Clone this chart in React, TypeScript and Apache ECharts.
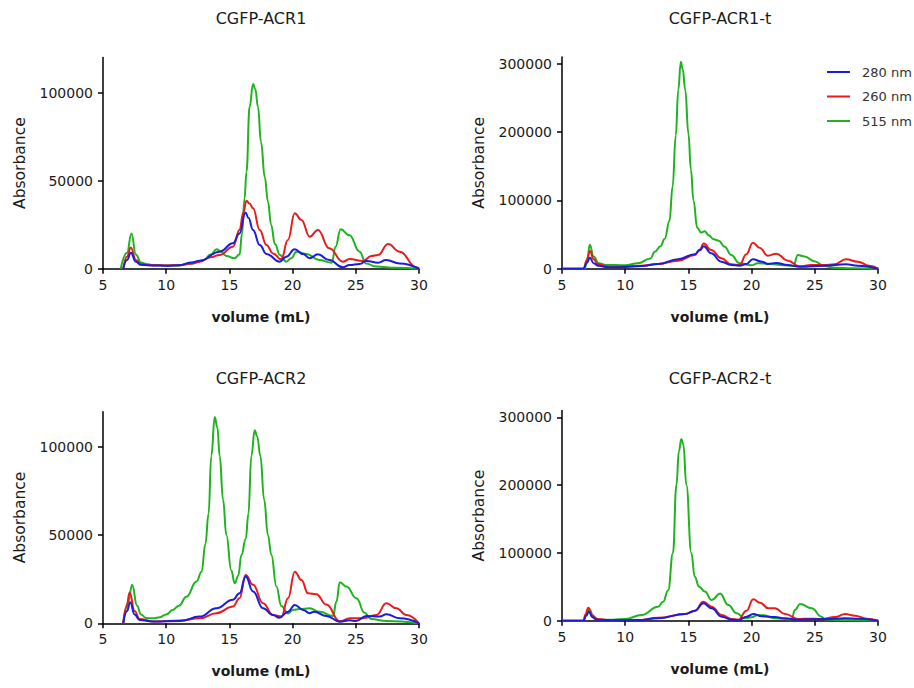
import React, { useEffect, useRef } from "react";
import * as echarts from "echarts";

// ---- Data (volume mL, absorbance) ----
const titles = ["CGFP-ACR1", "CGFP-ACR1-t", "CGFP-ACR2", "CGFP-ACR2-t"];
const wavelengths = ["280 nm", "260 nm", "515 nm"];
const yMax = [120000, 310000, 120000, 310000];
const yInterval = [50000, 100000, 50000, 100000];
const xTicks = [5, 10, 15, 20, 25, 30];

const acr1_280 = [[6.6,0],[6.9,5000],[7.2,9000],[7.6,4000],[8,2200],[9,1800],[10,1700],[11,2000],[12,3500],[12.65,4500],[14.23,9700],[15.28,14400],[15.8,20000],[16.27,32000],[16.5,29000],[16.87,22000],[17.4,13500],[17.93,8400],[18.98,4000],[19.5,6800],[20.17,11000],[20.83,8300],[21.35,5900],[22.0,8200],[22.9,4900],[23.98,800],[24.5,2100],[25.3,2700],[25.84,4400],[26.76,3400],[27.4,4900],[28.47,3000],[30,0]];
const acr1_260 = [[6.6,0],[6.9,7000],[7.2,12000],[7.6,5000],[8,2500],[9,2000],[10,1800],[11,2000],[12,3000],[12.65,4000],[13.5,6500],[14.23,7800],[15.28,12500],[15.8,22000],[16.1,32000],[16.35,38600],[16.6,37000],[16.87,34300],[17.4,22000],[17.93,13500],[18.45,8700],[19.1,5300],[19.63,16300],[20.17,31500],[20.7,27700],[21.35,18200],[22.0,22000],[22.9,11600],[23.98,4000],[24.5,5500],[25.57,4400],[26.23,7200],[26.76,7800],[27.55,14000],[28.47,9700],[29.8,800],[30,0]];
const acr1_515 = [[6.4,0],[6.9,9000],[7.25,20000],[7.6,8000],[8.0,3500],[8.5,2500],[9,2000],[10,1800],[11,1800],[12,2800],[13,5000],[13.5,8000],[14.0,11000],[14.3,10000],[14.76,7200],[15.4,5900],[15.8,8000],[16.0,20000],[16.2,40000],[16.35,55000],[16.6,92000],[16.87,105000],[17.05,102000],[17.26,92000],[17.5,72000],[17.8,52000],[18.05,38000],[18.3,25000],[18.6,14000],[19.0,7800],[19.5,4000],[19.9,6000],[20.3,9700],[21.1,8300],[22.1,4900],[23.1,3400],[23.4,12500],[23.8,22400],[24.5,19000],[25.3,9700],[25.8,3000],[26.6,1200],[28.2,500],[30,0]];

const acr1t_280 = [[5,0],[6.7,0],[6.95,8000],[7.21,16000],[7.5,8000],[7.87,4400],[8.66,2000],[10,2500],[11.3,3900],[12.6,6900],[14.18,14000],[15.5,21000],[15.9,27000],[16.21,33000],[16.8,22500],[17.6,10300],[18.39,5400],[19.05,4400],[19.58,6900],[20.1,13700],[20.83,10300],[21.29,6900],[21.95,8300],[22.87,5400],[23.79,2900],[25.77,4400],[27.47,6400],[28.4,4400],[30,0]];
const acr1t_260 = [[5,0],[6.7,0],[6.95,12000],[7.21,26000],[7.5,14000],[7.87,6400],[8.66,2900],[10,3500],[11.3,4400],[12.6,6900],[14.18,11800],[15.5,20000],[15.9,28000],[16.21,37000],[16.8,27400],[17.6,15200],[18.39,6400],[19.05,5400],[19.58,21000],[20.1,38000],[20.63,30800],[21.29,19000],[21.95,22000],[22.87,11800],[23.79,3500],[24.71,5400],[25.77,5400],[26.56,6400],[27.47,13700],[28.4,10300],[29.3,4400],[30,0]];
const acr1t_515 = [[5,0],[6.8,0],[7.0,15000],[7.2,35000],[7.5,18000],[7.9,8000],[8.5,5500],[10,5000],[11,8000],[12,15000],[12.34,25000],[12.8,33000],[13.13,44000],[13.5,70000],[13.75,120000],[14.0,195000],[14.2,262000],[14.4,303000],[14.55,292000],[14.75,262000],[15.0,198000],[15.2,145000],[15.4,100000],[15.7,60000],[16.0,53000],[16.3,55000],[16.6,49000],[17.0,43000],[17.4,41000],[17.87,32000],[18.39,20000],[19.05,8000],[19.97,5000],[20.5,8000],[21.5,7000],[22.5,5000],[23.3,4000],[23.66,20000],[24.19,18000],[24.95,11000],[25.74,4000],[26.5,1500],[28,500],[30,0]];

const acr2_280 = [[6.6,0],[6.9,7000],[7.15,12000],[7.5,5000],[7.9,1900],[8.96,1000],[11.07,1300],[12.65,3800],[13.97,8500],[15.28,13300],[15.8,17000],[16.29,26500],[16.87,18000],[17.66,8500],[18.45,4700],[18.95,3200],[19.64,6600],[20.17,10400],[20.83,7600],[21.35,5700],[21.7,6600],[22.67,4200],[23.73,900],[24.52,1700],[25.0,1300],[25.84,4200],[26.9,3800],[27.42,5100],[28.5,2800],[30,0]];
const acr2_260 = [[6.6,0],[6.85,9000],[7.11,17400],[7.5,7000],[7.9,2400],[8.96,1000],[11.07,1600],[12.65,2800],[13.97,5700],[15.28,9500],[15.8,14200],[16.29,27400],[16.87,21800],[17.66,11400],[18.45,4700],[19.11,3800],[19.64,14200],[20.17,29300],[20.7,24600],[21.22,17000],[21.88,16500],[22.67,10600],[23.73,1100],[24.52,2800],[25.57,2800],[26.63,4700],[27.42,11400],[28.21,8500],[29.0,4700],[30,0]];
const acr2_515 = [[6.6,0],[7.0,12000],[7.3,21800],[7.7,10000],[8.0,5000],[8.4,3000],[9.0,2800],[9.5,3500],[10.0,5000],[10.5,7500],[11.0,10000],[11.6,15000],[12.4,23700],[12.8,29300],[13.1,45000],[13.35,62000],[13.57,95000],[13.84,117000],[14.05,111000],[14.23,95000],[14.5,70000],[14.76,50000],[15.15,30000],[15.42,22700],[15.7,27000],[15.95,38800],[16.3,48000],[16.5,62000],[16.74,95000],[17.0,109500],[17.2,106000],[17.45,95000],[17.75,70000],[18.05,50000],[18.32,38800],[18.72,20800],[19.11,9800],[19.64,5500],[20.03,7600],[20.56,8100],[21.35,8500],[22.14,6600],[23.2,4200],[23.47,12300],[23.73,23300],[24.26,20800],[25.05,14200],[25.7,6000],[26.2,2500],[27.4,1300],[30,0]];

const acr2t_280 = [[5,0],[6.7,0],[6.9,7000],[7.13,13300],[7.4,5000],[7.74,1500],[9,500],[11,1000],[12.6,3500],[14.73,9900],[15.52,14800],[16.18,25600],[16.84,18300],[17.63,5900],[18.42,1500],[18.95,500],[19.6,5900],[20.13,9900],[20.8,6400],[21.85,5400],[22.64,3500],[23.7,1500],[25.84,2500],[27.4,3500],[28.5,3000],[30,0]];
const acr2t_260 = [[5,0],[6.7,0],[6.85,9000],[7.08,19000],[7.4,8000],[7.74,2500],[9,500],[11,800],[12.6,4400],[14.73,9900],[15.52,14800],[16.18,28000],[16.84,20700],[17.63,8400],[18.42,2500],[18.95,1500],[19.6,14800],[20.13,31500],[20.66,26500],[21.32,18300],[21.85,18300],[22.64,9900],[23.7,2500],[24.49,3000],[25.54,2500],[26.6,5400],[27.4,9900],[28.18,7400],[29.1,3000],[30,0]];
const acr2t_515 = [[5,0],[6.7,0],[6.9,8000],[7.15,17000],[7.5,6000],[7.9,1500],[9,1500],[10,2500],[11.3,8400],[12.6,20700],[13.0,28000],[13.4,45000],[13.78,100000],[14.05,200000],[14.25,250000],[14.44,268000],[14.6,260000],[14.84,200000],[15.23,100000],[15.5,65000],[15.85,50000],[16.3,43000],[16.84,30500],[17.5,40000],[18.16,23000],[18.82,10900],[19.48,3500],[20.0,5000],[20.5,8400],[21.0,8000],[21.85,3500],[23.16,2000],[23.43,15800],[23.83,24600],[24.75,18300],[25.54,5900],[25.8,2000],[27,1000],[30,0]];

const panelSeries = [
  [acr1_280, acr1_260, acr1_515],
  [acr1t_280, acr1t_260, acr1t_515],
  [acr2_280, acr2_260, acr2_515],
  [acr2t_280, acr2t_260, acr2t_515],
];

// ---- Styling ----
const COLORS = ["#1c1ce0", "#e81c1c", "#1eb41e"];
const FONT = "DejaVu Sans";
const TEXT = "#1a1a1a";
const GRIDS = [
  { left: 103, top: 57.5, width: 316, height: 211.2 },
  { left: 562, top: 57, width: 316, height: 211.7 },
  { left: 103, top: 411.7, width: 316, height: 211.6 },
  { left: 562, top: 410.5, width: 316, height: 210.2 },
];

function buildOption() {
  const axisLine = { show: true, lineStyle: { color: "#000", width: 1.5 } };
  const axisTick = { show: true, length: 5, lineStyle: { color: "#000", width: 1.5 } };
  const title = titles.map((t, i) => ({
    text: t,
    left: GRIDS[i].left + GRIDS[i].width / 2,
    textAlign: "center",
    top: i < 2 ? 10 : 370,
    padding: 0,
    textStyle: { fontFamily: FONT, fontSize: 16, fontWeight: "normal", color: TEXT },
  }));
  const xAxis = GRIDS.map((_, i) => ({
    type: "value",
    gridIndex: i,
    min: xTicks[0],
    max: xTicks[xTicks.length - 1],
    interval: xTicks[1] - xTicks[0],
    axisLine,
    axisTick,
    splitLine: { show: false },
    axisLabel: { fontFamily: FONT, fontSize: 14, color: TEXT, margin: 9 },
    name: "volume (mL)",
    nameLocation: "middle",
    nameGap: 41,
    nameTextStyle: { fontFamily: FONT, fontSize: 14, fontWeight: "bold", color: TEXT },
  }));
  const yAxis = GRIDS.map((_, i) => ({
    type: "value",
    gridIndex: i,
    min: 0,
    max: yMax[i],
    interval: yInterval[i],
    axisLine,
    axisTick,
    splitLine: { show: false },
    axisLabel: {
      fontFamily: FONT,
      fontSize: 14,
      color: TEXT,
      margin: 10,
      showMaxLabel: false,
      formatter: (v: number) => String(v),
    },
    name: "Absorbance",
    nameLocation: "middle",
    nameGap: 75,
    nameTextStyle: { fontFamily: FONT, fontSize: 15.5, color: TEXT },
  }));
  const series: any[] = [];
  panelSeries.forEach((group, i) => {
    // draw 515 first, then 260, then 280 on top
    [2, 1, 0].forEach((k) => {
      series.push({
        type: "line",
        name: wavelengths[k],
        xAxisIndex: i,
        yAxisIndex: i,
        data: group[k],
        showSymbol: false,
        symbol: "none",
        smooth: 0.45,
        smoothMonotone: "x",
        lineStyle: { width: 2, color: COLORS[k] },
        itemStyle: { color: COLORS[k] },
        z: 2 + (2 - k),
      });
    });
  });
  return {
    animation: false,
    backgroundColor: "#fff",
    title,
    grid: GRIDS.map((g) => ({ ...g, containLabel: false })),
    xAxis,
    yAxis,
    legend: {
      data: wavelengths,
      orient: "vertical",
      left: 827,
      top: 65,
      padding: 0,
      itemWidth: 23,
      itemHeight: 2,
      itemGap: 10.5,
      icon: "rect",
      textStyle: { fontFamily: FONT, fontSize: 13, color: "#333", lineHeight: 14, padding: [0, 0, 0, 7] },
    },
    series,
  };
}

export default function App() {
  const ref = useRef<HTMLDivElement>(null);
  useEffect(() => {
    if (!ref.current) return;
    const chart = echarts.init(ref.current, null, { renderer: "svg" });
    chart.setOption(buildOption() as any);
    return () => chart.dispose();
  }, []);
  return (
    <div
      ref={ref}
      style={{ position: "fixed", left: 0, top: 0, width: 914, height: 688, background: "#fff" }}
    />
  );
}
